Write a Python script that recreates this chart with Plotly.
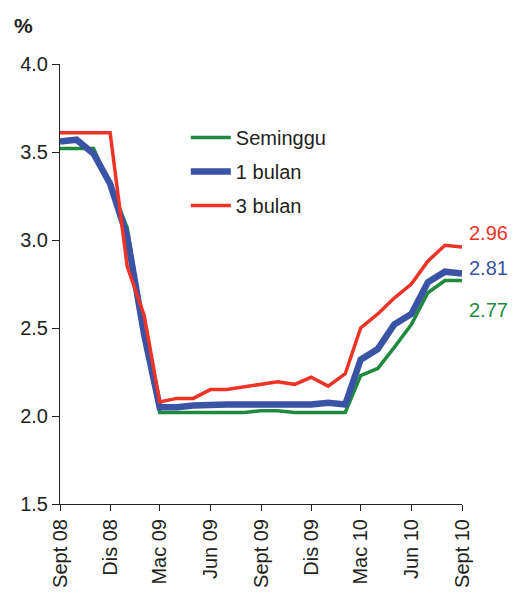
import plotly.graph_objects as go

months = ["2008-09-01", "2008-10-01", "2008-11-01", "2008-12-01", "2009-01-01",
          "2009-02-01", "2009-03-01", "2009-04-01", "2009-05-01", "2009-06-01",
          "2009-07-01", "2009-08-01", "2009-09-01", "2009-10-01", "2009-11-01",
          "2009-12-01", "2010-01-01", "2010-02-01", "2010-03-01", "2010-04-01",
          "2010-05-01", "2010-06-01", "2010-07-01", "2010-08-01", "2010-09-01"]

seminggu = [3.52, 3.52, 3.52, 3.31, 3.07, 2.45, 2.02, 2.02, 2.02, 2.02,
            2.02, 2.02, 2.03, 2.03, 2.02, 2.02, 2.02, 2.02, 2.23, 2.27,
            2.39, 2.52, 2.70, 2.77, 2.77]
bulan1 = [3.56, 3.57, 3.49, 3.32, 3.02, 2.46, 2.05, 2.05, 2.06, 2.065,
          2.065, 2.065, 2.065, 2.065, 2.065, 2.065, 2.075, 2.065, 2.32, 2.38,
          2.52, 2.58, 2.76, 2.82, 2.81]
bulan3 = [3.61, 3.61, 3.61, 3.61, 2.85, 2.57, 2.08, 2.10, 2.10, 2.15,
          2.15, 2.165, 2.185, 2.195, 2.18, 2.22, 2.17, 2.24, 2.50, 2.58,
          2.67, 2.75, 2.88, 2.97, 2.96]

tick_vals = ["2008-09-01", "2008-12-01", "2009-03-01", "2009-06-01", "2009-09-01",
             "2009-12-01", "2010-03-01", "2010-06-01", "2010-09-01"]
tick_text = ["Sept 08", "Dis 08", "Mac 09", "Jun 09", "Sept 09",
             "Dis 09", "Mac 10", "Jun 10", "Sept 10"]

FONT = "Liberation Sans, Arial"
INK = "#231f20"

series = [
    ("Seminggu", seminggu, "#1f8a3e", 3.5, "2.77", -30, "g1"),
    ("1 bulan", bulan1, "#3a53a4", 6.5, "2.81", 5, "g2"),
    ("3 bulan", bulan3, "#ee3327", 3.5, "2.96", 14, "g3"),
]

fig = go.Figure()
for name, vals, color, w, lab, ysh, grp in series:
    fig.add_trace(go.Scatter(x=months, y=vals, mode="lines", name=name,
                             legendgroup=grp,
                             line=dict(color=color, width=w)))
    fig.add_annotation(x=months[-1], y=vals[-1], text=lab, showarrow=False,
                       xanchor="left", yanchor="middle", xshift=5, yshift=ysh,
                       font=dict(size=20, color=color, family=FONT))

fig.add_annotation(x=0, y=1, xref="paper", yref="paper", text="<b>%</b>",
                   showarrow=False, xanchor="center", yanchor="middle",
                   xshift=-37, yshift=39,
                   font=dict(size=21, color=INK, family=FONT))

fig.update_layout(
    width=510, height=586,
    margin=dict(l=52, r=56, t=56, b=90, autoexpand=False),
    paper_bgcolor="white", plot_bgcolor="white",
    font=dict(family=FONT, size=20, color=INK),
    showlegend=True,
    legend=dict(x=0.313, y=0.877, xanchor="left", yanchor="top",
                font=dict(size=20, color=INK),
                bgcolor="rgba(0,0,0,0)", tracegroupgap=5,
                itemwidth=40),
    xaxis=dict(tickmode="array", tickvals=tick_vals, ticktext=tick_text,
               tickangle=-90, range=["2008-09-01", "2010-09-01"],
               showline=True, linecolor=INK, linewidth=1,
               ticks="outside", ticklen=6, tickcolor=INK,
               showgrid=False, zeroline=False, automargin=False),
    yaxis=dict(range=[1.5, 4.0], tickvals=[1.5, 2.0, 2.5, 3.0, 3.5, 4.0],
               tickformat=".1f", showline=True, linecolor=INK, linewidth=1,
               ticks="outside", ticklen=7, tickcolor=INK,
               showgrid=False, zeroline=False, automargin=False),
)

fig.write_html("out.html")
